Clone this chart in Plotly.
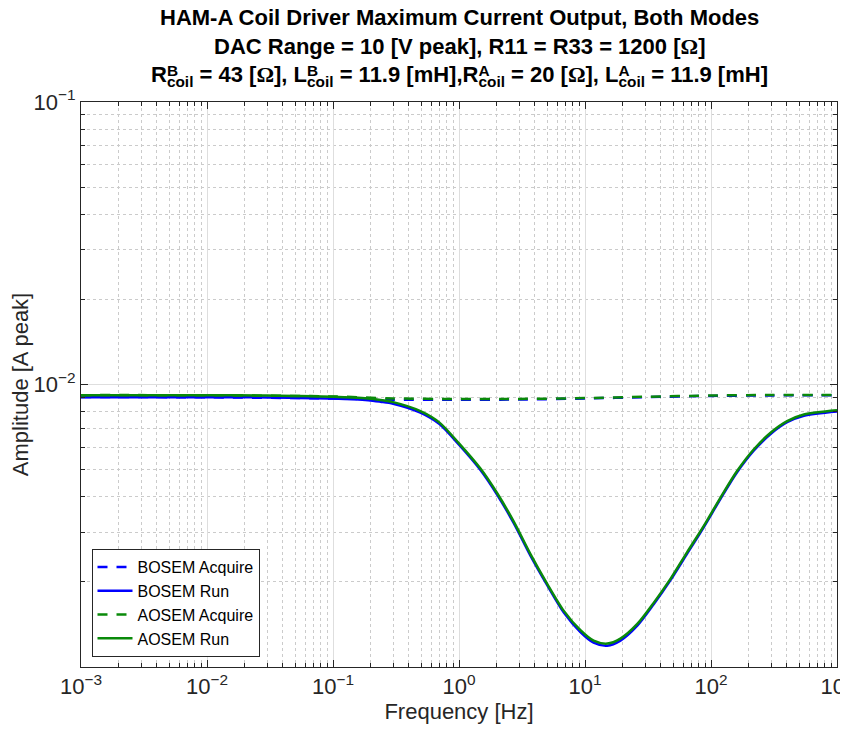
import plotly.graph_objects as go

# ---------------- data ----------------
freq_run = [0.001, 0.003, 0.01, 0.03, 0.1, 0.19, 0.238, 0.3, 0.494, 0.70, 1.0, 1.48, 2.01,
            2.72, 3.69, 5.01, 6.79, 9.2, 11.7, 15.0, 19.1, 26.0, 35.2, 47.7, 64.7, 87.7,
            119, 161, 219, 297, 402, 546, 1000]
aosem_run = [0.00916, 0.00916, 0.00916, 0.00914, 0.00905, 0.00892, 0.00881, 0.00866,
             0.00805, 0.00733, 0.00619, 0.00504, 0.00412, 0.00327, 0.00251, 0.00197,
             0.00158, 0.00135, 0.00124, 0.00121, 0.00126, 0.00142, 0.00169, 0.00205,
             0.00255, 0.00316, 0.00398, 0.00494, 0.00590, 0.00675, 0.00742, 0.00783,
             0.00811]
bosem_run = [0.00902, 0.00902, 0.00902, 0.00900, 0.00892, 0.00880, 0.00869, 0.00855,
             0.00795, 0.00724, 0.00612, 0.00498, 0.00407, 0.00323, 0.00248, 0.00195,
             0.00156, 0.00133, 0.00122, 0.00119, 0.00124, 0.00140, 0.00167, 0.00203,
             0.00252, 0.00313, 0.00394, 0.00489, 0.00584, 0.00668, 0.00735, 0.00775,
             0.00803]

freq_acq = [0.001, 0.01, 0.1, 0.3, 1, 3, 10, 30, 100, 300, 1000]
aosem_acq = [0.00917, 0.00916, 0.00907, 0.00893, 0.00888, 0.00889, 0.00895, 0.00905,
             0.00914, 0.00918, 0.00918]
bosem_acq = [0.00903, 0.00901, 0.00892, 0.00884, 0.00883, 0.00885, 0.00892, 0.00902,
             0.00911, 0.00915, 0.00916]

x_tickvals = [1e-3, 1e-2, 1e-1, 1e0, 1e1, 1e2, 1e3]
x_ticktext = ["10<sup>\u22123</sup>", "10<sup>\u22122</sup>", "10<sup>\u22121</sup>",
              "10<sup>0</sup>", "10<sup>1</sup>", "10<sup>2</sup>", "10<sup>3</sup>"]
y_tickvals = [1e-2, 1e-1]
y_ticktext = ["10<sup>\u22122</sup>", "10<sup>\u22121</sup>"]

series_names = ["BOSEM Acquire", "BOSEM Run", "AOSEM Acquire", "AOSEM Run"]

BLUE = "#0000FF"
GREEN = "#0A8A0A"
FONT = "Liberation Sans"
AX = "#262626"

fig = go.Figure()
fig.add_trace(go.Scatter(x=freq_acq, y=bosem_acq, mode="lines", name=series_names[0],
                         line=dict(color=BLUE, width=2.5, dash="10px,9px", shape="spline",
                                   smoothing=0.8)))
fig.add_trace(go.Scatter(x=freq_run, y=bosem_run, mode="lines", name=series_names[1],
                         line=dict(color=BLUE, width=2.5, shape="spline", smoothing=0.8)))
fig.add_trace(go.Scatter(x=freq_acq, y=aosem_acq, mode="lines", name=series_names[2],
                         line=dict(color=GREEN, width=2.5, dash="10px,9px", shape="spline",
                                   smoothing=0.8)))
fig.add_trace(go.Scatter(x=freq_run, y=aosem_run, mode="lines", name=series_names[3],
                         line=dict(color=GREEN, width=2.5, shape="spline", smoothing=0.8)))

# figure sits 8px inside the page (body margin)
OFF = 8
W, H = 840, 722
L, R, T, B = 73, 11, 94, 63
plot_w = W - L - R
plot_h = H - T - B


def xpaper(px):
    return (px - OFF - L) / plot_w


def ypaper(py):
    return 1 - (py - OFF - T) / plot_h


axis_common = dict(
    type="log", showline=True, linecolor=AX, linewidth=1, mirror="allticks",
    ticks="inside", ticklen=7, tickcolor=AX, tickwidth=1,
    showgrid=True, gridcolor="#dedede", gridwidth=1, zeroline=False,
    tickfont=dict(family=FONT, size=22, color=AX),
    ticklabeloverflow="allow",
    minor=dict(dtick="D1", ticks="inside", ticklen=4, tickcolor=AX,
               showgrid=True, gridcolor="#cbcbcb", griddash="dot", gridwidth=1),
)

fig.update_xaxes(range=[-3, 3], tickmode="array", tickvals=x_tickvals, ticktext=x_ticktext,
                 title=dict(text="Frequency [Hz]", font=dict(family=FONT, size=22, color=AX),
                            standoff=2),
                 **axis_common)
fig.update_yaxes(range=[-3, -1], tickmode="array", tickvals=y_tickvals, ticktext=y_ticktext,
                 title=dict(text="Amplitude [A peak]", font=dict(family=FONT, size=22, color=AX),
                            standoff=4),
                 **axis_common)

SERIF = "font-family:'Liberation Serif'"
HIDE = "color:rgba(0,0,0,0)"
OMEGA = "<span style=\"" + SERIF + "\">\u03a9</span>"
line1 = "HAM-A Coil Driver Maximum Current Output, Both Modes"
line2 = "DAC Range = 10 [V peak], R11 = R33 = 1200 [" + OMEGA + "]"

# third title line: sub "coil" with the superscript letter stacked over it
segments = ["R", ("B",), " = 43 [", "OMEGA", "], L", ("B",), " = 11.9 [mH],R", ("A",),
            " = 20 [", "OMEGA", "], L", ("A",), " = 11.9 [mH]"]
base_parts, sup_parts = [], []
for s in segments:
    if isinstance(s, tuple):
        base_parts.append("<sub>coil</sub>")
        # "B" + em space (1.0 em) has the same advance as "coil" in Arial-metric bold
        sup_parts.append("<sup>" + s[0] + "\u2003</sup>")
    elif s == "OMEGA":
        base_parts.append(OMEGA)
        sup_parts.append("<span style=\"" + SERIF + ";" + HIDE + "\">\u03a9</span>")
    else:
        base_parts.append(s)
        sup_parts.append("<span style=\"" + HIDE + "\">" + s + "</span>")
line3_base = "".join(base_parts)
line3_sup = "".join(sup_parts)

TITLE_SIZE = 22
for txt, py in [(line1, 18), (line2, 46), (line3_base, 76), (line3_sup, 76)]:
    fig.add_annotation(text=txt, xref="paper", yref="paper", x=xpaper(459), y=ypaper(py),
                       xanchor="center", yanchor="middle", showarrow=False,
                       font=dict(family=FONT, size=TITLE_SIZE, color="black", weight="bold"))

# small vertical credit line just right of the plot frame
fig.add_annotation(text="created by hama_coildriver_tf on 13-Aug-2018 , J. Kissel",
                   xref="paper", yref="paper", x=1.0, xanchor="left", xshift=1,
                   y=ypaper(600), yanchor="middle", textangle=-90, showarrow=False,
                   borderpad=0, font=dict(family=FONT, size=7.5, color="black"))

fig.update_layout(
    width=W, height=H,
    margin=dict(l=L, r=R, t=T, b=B, autoexpand=False),
    paper_bgcolor="white", plot_bgcolor="white",
    font=dict(family=FONT, color=AX),
    showlegend=True,
    legend=dict(x=xpaper(91.5), y=ypaper(657), xanchor="left", yanchor="bottom",
                bgcolor="white", bordercolor=AX, borderwidth=1,
                font=dict(family=FONT, size=16, color="black"),
                tracegroupgap=0, itemwidth=35),
)

fig.write_html("out.html")
